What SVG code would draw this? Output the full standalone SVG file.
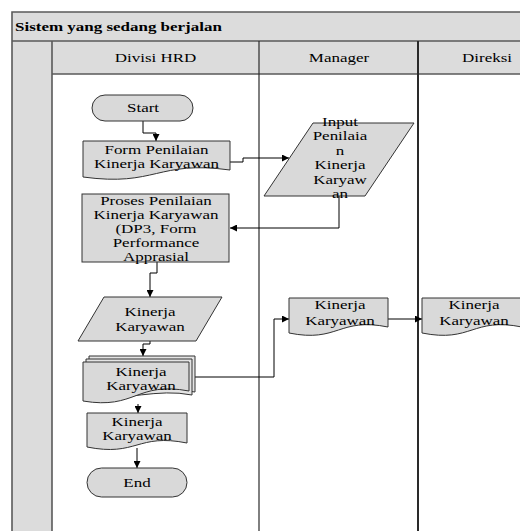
<svg xmlns="http://www.w3.org/2000/svg" width="520" height="531" viewBox="0 0 520 531">
  <style>
    .band { fill: #dcdcdc; }
    .frame { fill: none; stroke: #5a5a5a; stroke-width: 1.6; }
    .lane { fill: none; stroke: #2a2a2a; stroke-width: 1.2; }
    .shape { fill: #d9d9d9; stroke: #333; stroke-width: 1; }
    .back { fill: #e4e4e4; stroke: #333; stroke-width: 1; }
    .wire { fill: none; stroke: #000; stroke-width: 1; marker-end: url(#arrow); }
    text { font-family: "Liberation Serif", "Times New Roman", serif; font-size: 12.3px; fill: #000; text-anchor: middle; }
    .title { font-weight: bold; text-anchor: start; }
  </style>
  <defs>
    <marker id="arrow" viewBox="0 0 10 10" refX="10" refY="5" markerWidth="7" markerHeight="7" markerUnits="userSpaceOnUse" orient="auto">
      <path d="M0,0 L10,5 L0,10 z" fill="#000"/>
    </marker>
  </defs>

  <rect width="520" height="531" fill="#fff"/>

  <!-- swimlane frame; labels use a wide face (x stretched 1.38) -->
  <g id="pool">
    <rect class="band" x="12" y="12" width="520" height="29"/>
    <rect class="band" x="12" y="41" width="40" height="500"/>
    <rect class="band" x="52" y="41" width="480" height="33"/>
    <path class="frame" d="M12,540 V12 H530"/>
    <path class="frame" d="M12,41 H530 M52,74 H530 M52,41 V540"/>
    <path class="lane" d="M259,41 V540"/>
    <path class="lane" d="M418,41 V540" style="stroke-width:2"/>
    <g transform="translate(15,0) scale(1.38,1)"><text class="title" x="0" y="31">Sistem yang sedang berjalan</text></g>
    <g transform="translate(155.5,0) scale(1.38,1)"><text x="0" y="62">Divisi HRD</text></g>
    <g transform="translate(339,0) scale(1.38,1)"><text x="0" y="62">Manager</text></g>
    <g transform="translate(487,0) scale(1.38,1)"><text x="0" y="62">Direksi</text></g>
  </g>

  <!-- connectors -->
  <g id="connectors">
    <path class="wire" d="M143,121 V133 H156 V141"/>
    <path class="wire" d="M230,162 H243 V158 H289"/>
    <path class="wire" d="M339,196 V228 H230"/>
    <path class="wire" d="M157,262 V273 H150 V297"/>
    <path class="wire" d="M150,341 V344 H143 V356"/>
    <path class="wire" d="M195,377 H274 V319 H289"/>
    <path class="wire" d="M388,319 H422"/>
    <path class="wire" d="M138,404 V413"/>
    <path class="wire" d="M137,448 V468"/>
  </g>

  <g id="start">
    <rect class="shape" x="92" y="95" width="101" height="26" rx="13"/>
    <g transform="translate(143,0) scale(1.38,1)"><text x="0" y="112">Start</text></g>
  </g>

  <g id="form-penilaian">
    <path class="shape" d="M83,141 H230 V170 C156.5,160 156.5,187 83,177 Z"/>
    <g transform="translate(156.5,0) scale(1.38,1)">
      <text x="0" y="154">Form Penilaian</text>
      <text x="0" y="168">Kinerja Karyawan</text>
    </g>
  </g>

  <g id="input-penilaian">
    <path class="shape" d="M313,123 H414 L365,196 H264 Z"/>
    <g transform="translate(340,0) scale(1.38,1)">
      <text x="0" y="126">Input</text>
      <text x="0" y="140.5">Penilaia</text>
      <text x="0" y="155">n</text>
      <text x="0" y="169.5">Kinerja</text>
      <text x="0" y="184">Karyaw</text>
      <text x="0" y="198.5">an</text>
    </g>
  </g>

  <g id="proses-penilaian">
    <rect class="shape" x="82" y="194" width="147" height="68"/>
    <g transform="translate(156,0) scale(1.38,1)">
      <text x="0" y="205">Proses Penilaian</text>
      <text x="0" y="219">Kinerja Karyawan</text>
      <text x="0" y="233">(DP3, Form</text>
      <text x="0" y="247.5">Performance</text>
      <text x="0" y="261.5">Apprasial</text>
    </g>
  </g>

  <g id="kinerja-input">
    <path class="shape" d="M104,297 H222 L196,341 H78 Z"/>
    <g transform="translate(150,0) scale(1.38,1)">
      <text x="0" y="316">Kinerja</text>
      <text x="0" y="331">Karyawan</text>
    </g>
  </g>

  <g id="kinerja-rangkap">
    <path class="back" d="M89,356 H195 V392 C160,385 130,398 89,394 Z"/>
    <path class="back" d="M86,359 H192 V395 C157,388 127,401 86,397 Z"/>
    <path class="shape" d="M83,362 H189 V391 C136,381 136,410 83,401 Z"/>
    <g transform="translate(141,0) scale(1.38,1)">
      <text x="0" y="376">Kinerja</text>
      <text x="0" y="390">Karyawan</text>
    </g>
  </g>

  <g id="kinerja-manager">
    <path class="shape" d="M289,298 H388 V327 C338.5,317 338.5,343 289,333 Z"/>
    <g transform="translate(340,0) scale(1.38,1)">
      <text x="0" y="309">Kinerja</text>
      <text x="0" y="325">Karyawan</text>
    </g>
  </g>

  <g id="kinerja-direksi">
    <path class="shape" d="M422,298 H522 V327 C472,317 472,343 422,333 Z"/>
    <g transform="translate(474,0) scale(1.38,1)">
      <text x="0" y="309">Kinerja</text>
      <text x="0" y="325">Karyawan</text>
    </g>
  </g>

  <g id="kinerja-arsip">
    <path class="shape" d="M87,413 H187 V443 C137,433 137,457 87,447 Z"/>
    <g transform="translate(137,0) scale(1.38,1)">
      <text x="0" y="426">Kinerja</text>
      <text x="0" y="440">Karyawan</text>
    </g>
  </g>

  <g id="end">
    <rect class="shape" x="87" y="468" width="100" height="29" rx="14.5"/>
    <g transform="translate(137,0) scale(1.38,1)"><text x="0" y="487">End</text></g>
  </g>
</svg>
